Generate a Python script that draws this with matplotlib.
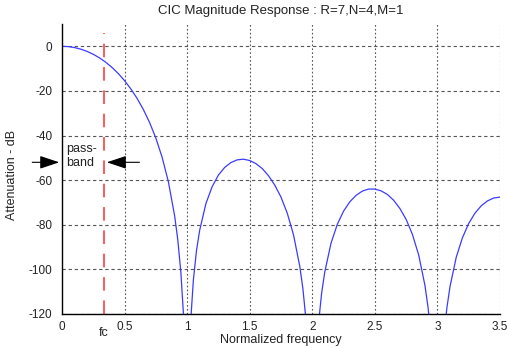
import matplotlib
matplotlib.use("Agg")
import matplotlib.pyplot as plt

plt.rcParams['font.family'] = ['Liberation Sans', 'DejaVu Sans']
plt.rcParams['axes.unicode_minus'] = False

# magnitude response (normalized frequency, dB)
# nulls at 1, 2, 3 go far below the -120 floor
freq = [0.0, 0.05, 0.1, 0.15, 0.2, 0.25, 0.3, 0.35, 0.4, 0.45, 0.5,
        0.55, 0.6, 0.65, 0.7, 0.75, 0.8, 0.85, 0.9, 0.925, 0.95, 0.97,
        1.0, 1.02, 1.03, 1.05, 1.075, 1.1, 1.15, 1.2, 1.25, 1.3, 1.35,
        1.4, 1.45, 1.5, 1.55, 1.6, 1.65, 1.7, 1.75, 1.8, 1.85, 1.9,
        1.925, 1.95, 2.0, 2.05, 2.075, 2.1, 2.15, 2.2, 2.25, 2.3, 2.35,
        2.4, 2.45, 2.5, 2.55, 2.6, 2.65, 2.7, 2.75, 2.8, 2.85, 2.9,
        2.925, 2.95, 3.0, 3.05, 3.075, 3.1, 3.15, 3.2, 3.25, 3.3, 3.35,
        3.4, 3.45, 3.5]
atten = [0.0, -0.14, -0.56, -1.27, -2.27, -3.58, -5.2, -7.16, -9.49, -12.22, -15.4,
         -19.08, -23.35, -28.32, -34.17, -41.16, -49.73, -60.71, -75.97, -86.6, -101.4, -119.7,
         -200.0, -135.4, -121.7, -104.6, -91.5, -82.5, -70.5, -62.9, -57.7, -54.3, -52.1,
         -50.9, -50.6, -51.2, -52.6, -54.8, -58.0, -62.2, -67.6, -74.8, -84.5, -98.6,
         -108.6, -122.9, -200.0, -124.1, -110.5, -101.1, -88.2, -79.8, -73.9, -69.7, -66.8,
         -64.9, -64.0, -64.0, -64.8, -66.4, -69.0, -72.7, -77.6, -84.3, -93.5, -107.1,
         -117.0, -131.0, -200.0, -131.4, -117.5, -107.9, -94.6, -85.8, -79.4, -74.8, -71.5,
         -69.3, -68.0, -67.6]

fc = 0.336
passband_level = -52
xticks = [0, 0.5, 1, 1.5, 2, 2.5, 3, 3.5]
yticks = [0, -20, -40, -60, -80, -100, -120]

fig = plt.figure(figsize=(5.07, 3.48), dpi=100)
ax = fig.add_axes([62/507, 1 - 314/348, 438/507, 290/348])

ax.plot(freq, atten, color="#3b3bff", lw=0.9)
ax.plot([fc, fc], [-120, 6], color="#ff5a5a", lw=1.4, dashes=(7, 5))

ax.set_xlim(0, 3.5)
ax.set_ylim(-120, 10)
ax.set_xticks(xticks)
ax.set_xticklabels([f"{t:g}" for t in xticks])
ax.set_yticks(yticks)
ax.tick_params(length=0, labelsize=8.5, colors="#222222")
ax.tick_params(axis="x", pad=5)
ax.tick_params(axis="y", pad=7)

for y in yticks:
    ax.axhline(y, color="#555555", lw=0.8, ls=(0, (3, 2.5)), zorder=0)
for x in xticks[1:]:
    ax.axvline(x, ymax=1.0, color="#555555", lw=0.8, ls=(0, (1.5, 2)), zorder=0)

for s in ["top", "right"]:
    ax.spines[s].set_visible(False)
for s in ["left", "bottom"]:
    ax.spines[s].set_linewidth(1.0)

ax.set_title("CIC Magnitude Response : R=7,N=4,M=1", fontsize=9.5, color="#222222", pad=7)
ax.set_xlabel("Normalized frequency", fontsize=9, color="#222222", labelpad=1)
ax.set_ylabel("Attenuation - dB", fontsize=9, color="#222222")
ax.yaxis.set_label_coords(-0.1, 0.48)

# passband arrows
ax.annotate("", xy=(0, passband_level), xytext=(-0.26, passband_level),
            arrowprops=dict(arrowstyle="-|>,head_length=1.2,head_width=0.4", color="black", lw=0.8),
            annotation_clip=False)
ax.annotate("", xy=(fc, passband_level), xytext=(fc + 0.305, passband_level),
            arrowprops=dict(arrowstyle="-|>,head_length=1.2,head_width=0.4", color="black", lw=0.8))
ax.text(0.03, passband_level + 2.8, "pass-\nband", fontsize=9, color="#222222",
        ha="left", va="center", linespacing=1.25)
ax.text(fc, -128.5, "fc", fontsize=9, color="#222222", ha="center", va="center")

fig.savefig("out.png", dpi=100)
